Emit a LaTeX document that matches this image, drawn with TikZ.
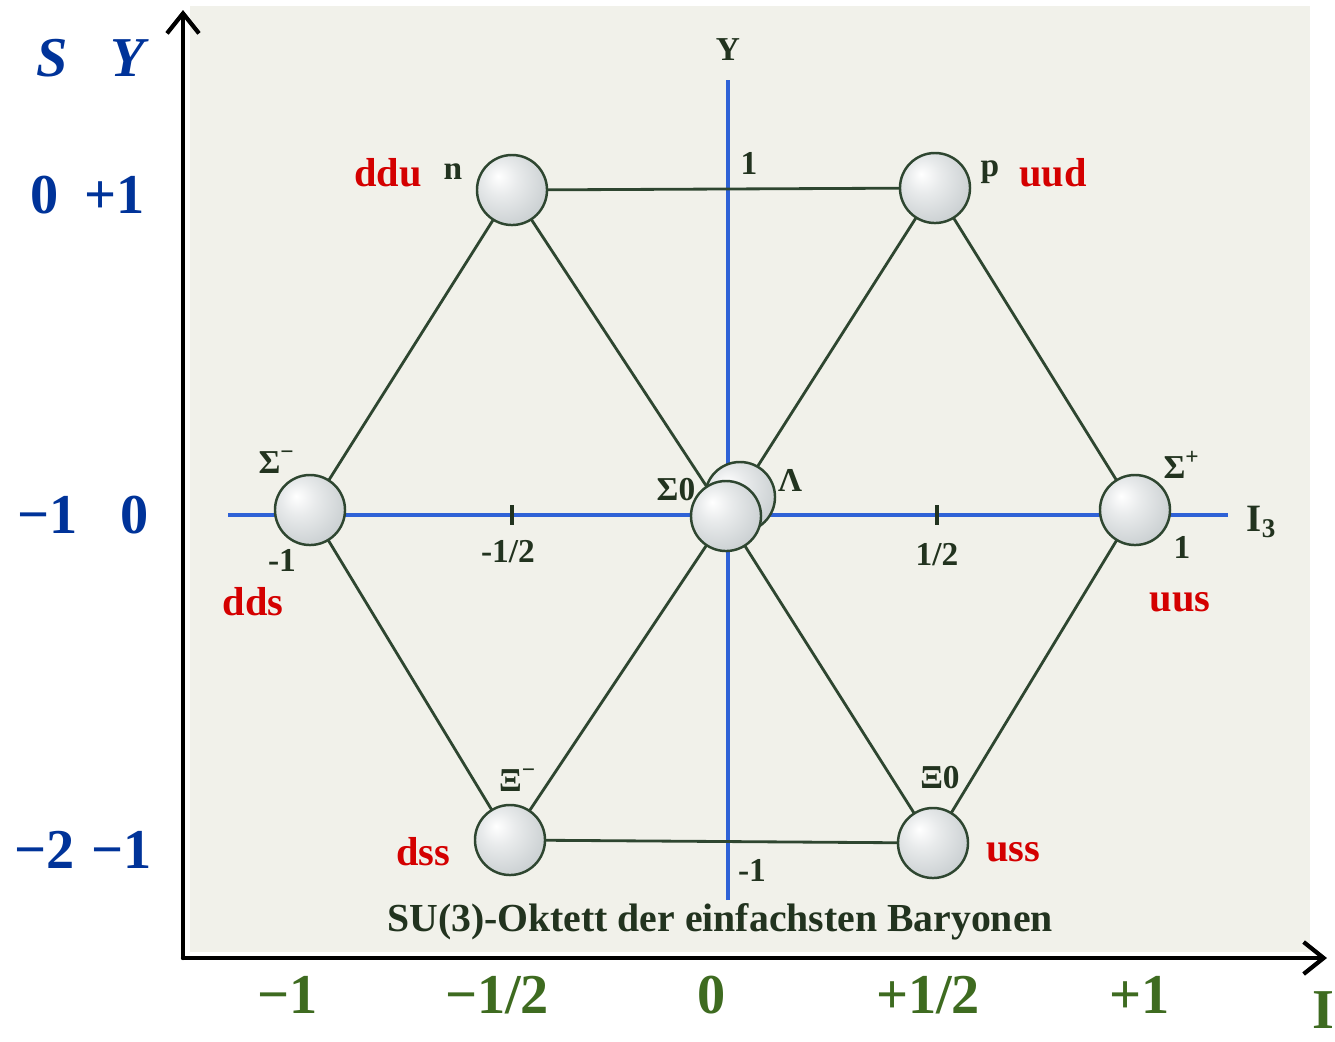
\documentclass[tikz,border=0pt]{standalone}
\usepackage{fontspec}
\setmainfont{Liberation Serif}
\usepackage{xcolor}
\usepackage{tikz}
\usetikzlibrary{arrows.meta,backgrounds,positioning}
\definecolor{suBlue}{HTML}{003399}
\definecolor{suRed}{HTML}{D40000}
\definecolor{suGreen}{HTML}{3E6B20}
\definecolor{suInk}{HTML}{22331F}
\definecolor{suLine}{HTML}{2E4630}
\definecolor{suAxis}{HTML}{2F62D6}
\definecolor{suPaper}{HTML}{F1F1EA}
\definecolor{suPearl}{HTML}{CDD2D4}
\pgfdeclareradialshading{supearl}{\pgfpoint{-10bp}{10bp}}{%
  color(0bp)=(white); color(12bp)=(suPearl!45!white); color(30bp)=(suPearl);
  color(45bp)=(suPearl!85!black); color(65bp)=(suPearl!65!black)}
\tikzset{
  su diagram/.style={x=0.01cm, y=-0.01cm, line cap=round, line join=round},
  su ball/.style={circle, draw=suLine, line width=0.7pt, minimum size=0.7cm,
    inner sep=0pt, shading=supearl},
  su edge/.style={draw=suLine, line width=0.8pt},
  su axis/.style={draw=suAxis, line width=0.9pt},
  su tick/.style={draw=suInk, line width=1.1pt},
  su frame/.style={-{Straight Barb[length=2mm,width=3.2mm]}, draw=black, line width=1.2pt},
  su ink/.style={font=\fontsize{9.5}{11}\selectfont\bfseries, text=suInk},
  su quark/.style={font=\fontsize{11.5}{13}\selectfont\bfseries, text=suRed},
  su left/.style={font=\fontsize{16}{18}\selectfont\bfseries, text=suBlue},
  su bottom/.style={font=\fontsize{16}{18}\selectfont\bfseries, text=suGreen}
}
\begin{document}
\begin{tikzpicture}[su diagram]
\useasboundingbox (0,0) rectangle (1335,1041);
\node[su ball] (lam) at (740,497) {};
\node[su ball] (sig0) at (726,516) {};
\node[su ball] (n) at (512,190) {};
\node[su ball] (p) at (935,188) {};
\node[su ball] (sigm) at (310,510) {};
\node[su ball] (sigp) at (1135,510) {};
\node[su ball] (xim) at (510,840) {};
\node[su ball] (xi0) at (933,843) {};
\begin{scope}[on background layer]
  \fill[suPaper] (190,6) rectangle (1310,952);
  \coordinate (ytop) at (728,80);
  \coordinate (ybot) at (728,900);
  \coordinate (ileft) at (228,515);
  \coordinate (iright) at (1228,515);
  \draw[su axis] (ybot) -- (ytop);
  \draw[su axis] (ileft) -- (iright);
  \draw[su tick] (512,505) -- (512,525);
  \draw[su tick] (937,505) -- (937,525);
  \draw[su edge] (n.center) -- (p.center);
  \draw[su edge] (n.center) -- (sigm.center);
  \draw[su edge] (n.center) -- (sig0.center);
  \draw[su edge] (p.center) -- (sig0.center);
  \draw[su edge] (p.center) -- (sigp.center);
  \draw[su edge] (sigm.center) -- (xim.center);
  \draw[su edge] (xim.center) -- (sig0.center);
  \draw[su edge] (sig0.center) -- (xi0.center);
  \draw[su edge] (xi0.center) -- (sigp.center);
  \draw[su edge] (xim.center) -- (xi0.center);
\end{scope}
\coordinate (o) at (183,958);
\coordinate (stop) at (183,10);
\coordinate (iend) at (1327,958);
\draw[su frame] (o) -- (stop);
\draw[su frame] (o) -- (iend);
\node[su ink] (nl) at (453,172) {n};
\node[su ink] (pl) at (990,172) {p};
\node[su ink] (sigml) at (277,462) {Σ\textsuperscript{−}};
\node[su ink] (sig0l) at (676,490) {Σ0};
\node[su ink] (laml) at (790,480) {Λ};
\node[su ink] (sigpl) at (1182,465) {Σ\textsuperscript{+}};
\node[su ink] (ximl) at (518,780) {Ξ\textsuperscript{−}};
\node[su ink] (xi0l) at (940,778) {Ξ0};
\node[su ink] (tm1) at (282,560) {-1};
\node[su ink] (tmh) at (508,552) {-1/2};
\node[su ink] (tph) at (937,555) {1/2};
\node[su ink] (tp1) at (1182,547) {1};
\node[su ink] (yl) at (728,50) {Y};
\node[su ink] (y1) at (749,163) {1};
\node[su ink] (ym1) at (752,870) {-1};
\node[su ink, font=\fontsize{11}{12}\selectfont\bfseries] (i3) at (1262,522) {I\textsubscript{3}};
\node[su ink, font=\fontsize{11.3}{13}\selectfont\bfseries] (cap) at (720,922) {SU(3)-Oktett der einfachsten Baryonen};
\node[su quark] (ddu) at (388,173) {ddu};
\node[su quark] (uud) at (1053,173) {uud};
\node[su quark] (dds) at (253,602) {dds};
\node[su quark] (uus) at (1180,602) {uus};
\node[su quark] (dss) at (423,852) {dss};
\node[su quark] (uss) at (1013,852) {uss};
\node[su left, font=\fontsize{16}{18}\selectfont\bfseries\itshape] (sl) at (52,58) {S};
\node[su left, font=\fontsize{16}{18}\selectfont\bfseries\itshape] (yll) at (128,58) {Y};
\node[su left] (s0) at (45,195) {0};
\node[su left] (yp1) at (115,195) {+1};
\node[su left] (sm1) at (48,515) {−1};
\node[su left] (y0) at (135,515) {0};
\node[su left] (sm2) at (45,850) {−2};
\node[su left] (ym1l) at (122,850) {−1};
\node[su bottom] (bm1) at (288,995) {−1};
\node[su bottom] (bmh) at (497,995) {−1/2};
\node[su bottom] (b0) at (712,995) {0};
\node[su bottom] (bph) at (928,995) {+1/2};
\node[su bottom] (bp1) at (1140,995) {+1};
\node[su bottom, anchor=west] (bi3) at (1300,1015) {I\textsubscript{3}};
\end{tikzpicture}
\end{document}
